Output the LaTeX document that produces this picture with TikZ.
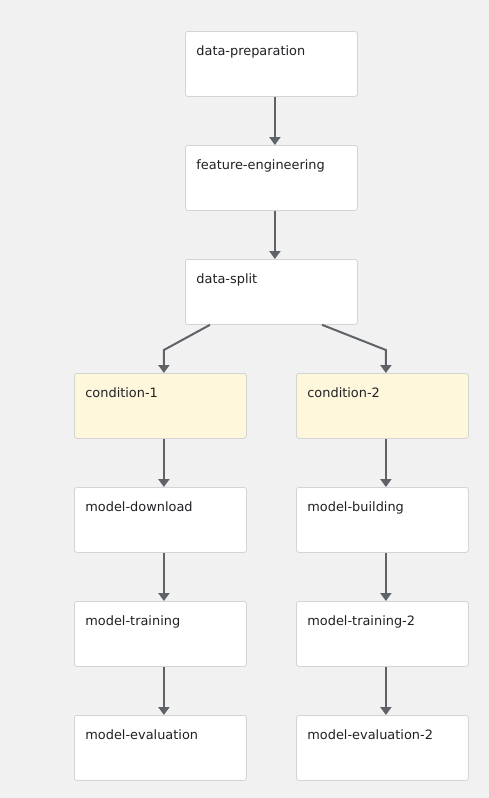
\documentclass[tikz,border=0pt]{standalone}
\usepackage{fontspec}
\setmainfont{DejaVu Sans}
\usetikzlibrary{arrows.meta}
\definecolor{bg}{HTML}{F1F1F1}
\definecolor{boxline}{HTML}{D4D4D4}
\definecolor{condfill}{HTML}{FEF7DC}
\definecolor{arrowc}{HTML}{5F6368}
\definecolor{txt}{HTML}{202124}
\tikzset{
  card/.style={draw=boxline, line width=0.8pt, fill=white, rounded corners=2.5pt,
    anchor=north west, inner xsep=11pt, inner ysep=0pt,
    text width=150pt, align=left, text height=24pt, text depth=41pt,
    font=\fontsize{12.9}{14}\selectfont, text=txt},
  condcard/.style={card, fill=condfill},
  flow/.style={draw=arrowc, line width=2pt, -{Triangle[width=11pt,length=8pt]}}
}
\begin{document}
\begin{tikzpicture}[x=1pt,y=1pt]
\fill[bg] (0,0) rectangle (489,-798);
\useasboundingbox (0,0) rectangle (489,-798);
\node[card] (dp) at (185,-31) {data-preparation};
\node[card] (fe) at (185,-145) {feature-engineering};
\node[card] (ds) at (185,-259) {data-split};
\node[condcard] (c1) at (74,-373) {condition-1};
\node[condcard] (c2) at (296,-373) {condition-2};
\node[card] (md) at (74,-487) {model-download};
\node[card] (mb) at (296,-487) {model-building};
\node[card] (mt) at (74,-601) {model-training};
\node[card] (mt2) at (296,-601) {model-training-2};
\node[card] (me) at (74,-715) {model-evaluation};
\node[card] (me2) at (296,-715) {model-evaluation-2};

\draw[flow] ([xshift=3.5pt]dp.south) -- ([xshift=3.5pt]fe.north);
\draw[flow] ([xshift=3.5pt]fe.south) -- ([xshift=3.5pt]ds.north);
\coordinate (s1) at ([xshift=25pt]ds.south west);
\coordinate (s2) at ([xshift=137pt]ds.south west);
\coordinate (m1) at ([xshift=3.5pt,yshift=23pt]c1.north);
\coordinate (m2) at ([xshift=3.5pt,yshift=23pt]c2.north);
\draw[flow] (s1) -- (m1) -- ([xshift=3.5pt]c1.north);
\draw[flow] (s2) -- (m2) -- ([xshift=3.5pt]c2.north);
\draw[flow] ([xshift=3.5pt]c1.south) -- ([xshift=3.5pt]md.north);
\draw[flow] ([xshift=3.5pt]md.south) -- ([xshift=3.5pt]mt.north);
\draw[flow] ([xshift=3.5pt]mt.south) -- ([xshift=3.5pt]me.north);
\draw[flow] ([xshift=3.5pt]c2.south) -- ([xshift=3.5pt]mb.north);
\draw[flow] ([xshift=3.5pt]mb.south) -- ([xshift=3.5pt]mt2.north);
\draw[flow] ([xshift=3.5pt]mt2.south) -- ([xshift=3.5pt]me2.north);
\end{tikzpicture}
\end{document}
